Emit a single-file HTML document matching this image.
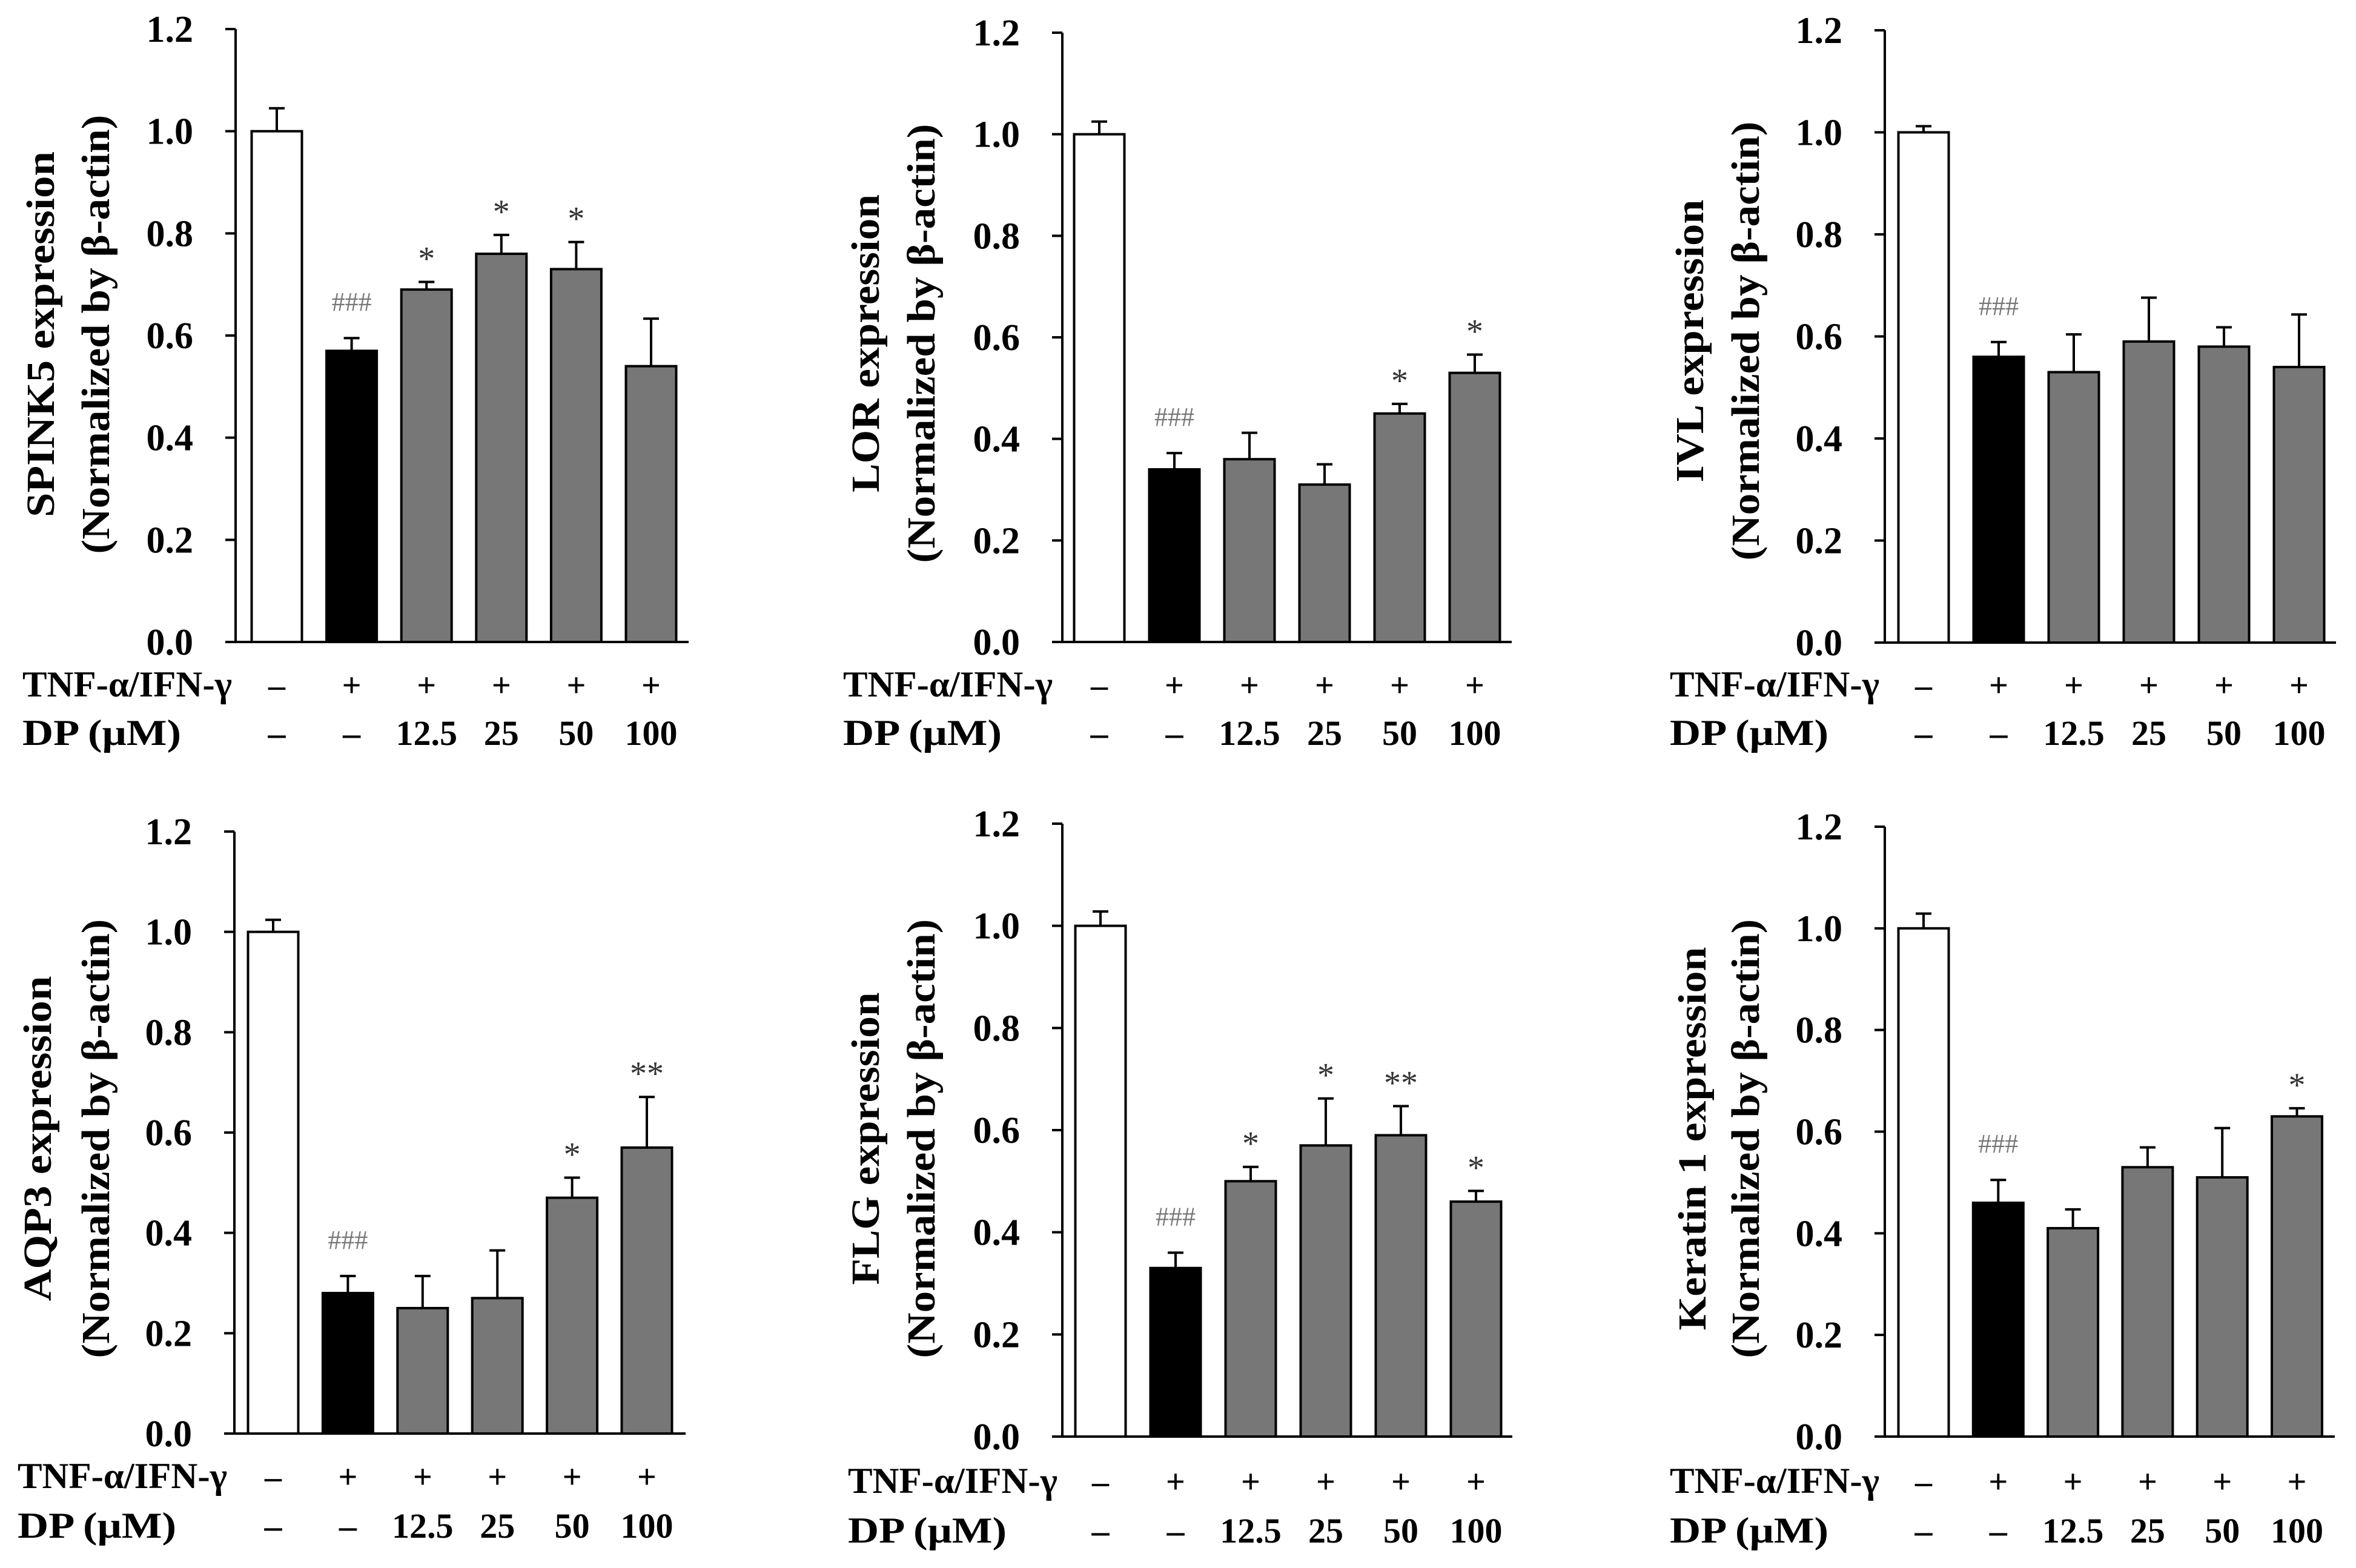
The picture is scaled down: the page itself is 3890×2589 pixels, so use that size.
<!DOCTYPE html>
<html><head><meta charset="utf-8"><style>
html,body{margin:0;padding:0;background:#fff;}
svg{display:block;}
text{font-family:"Liberation Serif",serif;}
</style></head><body>
<svg id="fig" xmlns="http://www.w3.org/2000/svg" width="3890" height="2589" viewBox="0 0 3890 2589"></svg>
<script>
const genes = ["SPINK5","LOR","IVL","AQP3","FLG","Keratin 1"];
const valsSPINK5 = [1.0,0.57,0.69,0.76,0.73,0.54];
const errSPINK5  = [0.045,0.025,0.015,0.037,0.053,0.093];
const sigSPINK5  = ["","###","*","*","*",""];
const valsLOR = [1.0,0.34,0.36,0.31,0.45,0.53];
const errLOR  = [0.025,0.032,0.052,0.04,0.019,0.036];
const sigLOR  = ["","###","","","*","*"];
const valsIVL = [1.0,0.56,0.53,0.59,0.58,0.54];
const errIVL  = [0.012,0.029,0.074,0.086,0.038,0.103];
const sigIVL  = ["","###","","","",""];
const valsAQP3 = [1.0,0.28,0.25,0.27,0.47,0.57];
const errAQP3  = [0.024,0.034,0.064,0.095,0.04,0.101];
const sigAQP3  = ["","###","","","*","**"];
const valsFLG = [1.0,0.33,0.50,0.57,0.59,0.46];
const errFLG  = [0.028,0.03,0.028,0.092,0.057,0.021];
const sigFLG  = ["","###","*","*","**","*"];
const valsKRT1 = [1.0,0.46,0.41,0.53,0.51,0.63];
const errKRT1  = [0.029,0.045,0.037,0.039,0.097,0.016];
const sigKRT1  = ["","###","","","","*"];
const tnfRow = ["\u2013","+","+","+","+","+"];
const dpRow = ["\u2013","\u2013","12.5","25","50","100"];
const yTicks = [0,0.2,0.4,0.6,0.8,1.0,1.2];
const yMax = 1.2;

const NS="http://www.w3.org/2000/svg";
const svg=document.getElementById('fig');
function mk(tag,attrs,parent,txt){const e=document.createElementNS(NS,tag);for(const k in attrs)e.setAttribute(k,attrs[k]);if(txt!==undefined)e.textContent=txt;(parent||svg).appendChild(e);return e;}

const layouts=[
 {ax:389,y0:1060,yt:48,xe:1137,c0:457,sp:123.6,t1:67,t2:158,lx:37,tb:1150,db:1230,ty:552,tl:604},
 {ax:1754,y0:1060,yt:54,xe:2496,c0:1815,sp:124,t1:1429,t2:1521,lx:1392,tb:1150,db:1230,ty:567,tl:492},
 {ax:3112,y0:1061,yt:50,xe:3857,c0:3176,sp:124,t1:2790,t2:2882,lx:2757,tb:1150,db:1230,ty:563,tl:467},
 {ax:387,y0:2367,yt:1373,xe:1132,c0:451,sp:123.4,t1:62,t2:158,lx:29,tb:2457,db:2539,ty:1880,tl:537},
 {ax:1754,y0:2372,yt:1360,xe:2497,c0:1817,sp:124,t1:1429,t2:1521,lx:1400,tb:2465,db:2547,ty:1880,tl:483},
 {ax:3112,y0:2372,yt:1365,xe:3855,c0:3176,sp:123.3,t1:2794,t2:2882,lx:2757,tb:2465,db:2547,ty:1880,tl:633}
];
const allVals=[valsSPINK5,valsLOR,valsIVL,valsAQP3,valsFLG,valsKRT1];
const allErr=[errSPINK5,errLOR,errIVL,errAQP3,errFLG,errKRT1];
const allSig=[sigSPINK5,sigLOR,sigIVL,sigAQP3,sigFLG,sigKRT1];
const fills=["#fff","#000","#777","#777","#777","#777"];

layouts.forEach((L,p)=>{
  const g=mk('g',{});
  
  
  const y=v=>L.y0-(v/yMax)*(L.y0-L.yt);
  const x=i=>L.c0+i*L.sp;
  const bw=83;
  allVals[p].forEach((v,i)=>{
    const top=y(v+allErr[p][i]);
    const eb=mk('line',{x1:x(i),x2:x(i),y1:y(v),y2:top,stroke:'#000','stroke-width':4},g);
    
    
    const cap=mk('line',{x1:x(i)-13,x2:x(i)+13,y1:top,y2:top,stroke:'#000','stroke-width':4},g);
    
    
    const r=mk('rect',{x:x(i)-bw/2,y:y(v),width:bw,height:L.y0-y(v),fill:fills[i],stroke:'#000','stroke-width':4},g);
    
    
    const s=allSig[p][i];
    if(s){
      const isHash=s[0]==='#';
      const t=mk('text',{x:x(i),y:isHash?top-45:top-20,'text-anchor':'middle','font-size':isHash?44:56,fill:isHash?'#777':'#333'},g,s);
      
      
    }
  });
  const ya=mk('line',{x1:L.ax,x2:L.ax,y1:L.yt,y2:L.y0+2,stroke:'#000','stroke-width':4},g);
  
  
  const xa=mk('line',{x1:L.ax-2,x2:L.xe,y1:L.y0,y2:L.y0,stroke:'#000','stroke-width':4},g);
  
  
  yTicks.forEach(tv=>{
    const tk=mk('line',{x1:L.ax-17,x2:L.ax,y1:y(tv),y2:y(tv),stroke:'#000','stroke-width':4},g);
    
    
    const tl=mk('text',{x:L.ax-70,y:y(tv)+21,'text-anchor':'end','font-size':62,'font-weight':'bold'},g,tv.toFixed(1));
    
    
  });
  const t1=mk('text',{x:0,y:0,'text-anchor':'middle','font-size':66,'font-weight':'bold',textLength:L.tl,lengthAdjust:'spacingAndGlyphs',transform:`translate(${L.t1+22},${L.ty}) rotate(-90)`},g,genes[p]+' expression');
  
  
  const t2=mk('text',{x:0,y:0,'text-anchor':'middle','font-size':66,'font-weight':'bold',textLength:725,lengthAdjust:'spacingAndGlyphs',transform:`translate(${L.t2+22},${L.ty}) rotate(-90)`},g,'(Normalized by \u03b2-actin)');
  
  
  const r1=mk('text',{x:L.lx,y:L.tb,'font-size':60,'font-weight':'bold',textLength:346,lengthAdjust:'spacingAndGlyphs'},g,'TNF-\u03b1/IFN-\u03b3');
  
  
  const r2=mk('text',{x:L.lx,y:L.db,'font-size':60,'font-weight':'bold',textLength:262,lengthAdjust:'spacingAndGlyphs'},g,'DP (\u03bcM)');
  
  
  tnfRow.forEach((s,i)=>{
    const t=mk('text',{x:x(i),y:L.tb,'text-anchor':'middle','font-size':56,'font-weight':'bold'},g,s);
    
    
  });
  dpRow.forEach((s,i)=>{
    const t=mk('text',{x:x(i),y:L.db,'text-anchor':'middle','font-size':58,'font-weight':'bold'},g,s);
    
    
  });
});
</script>
</body></html>
